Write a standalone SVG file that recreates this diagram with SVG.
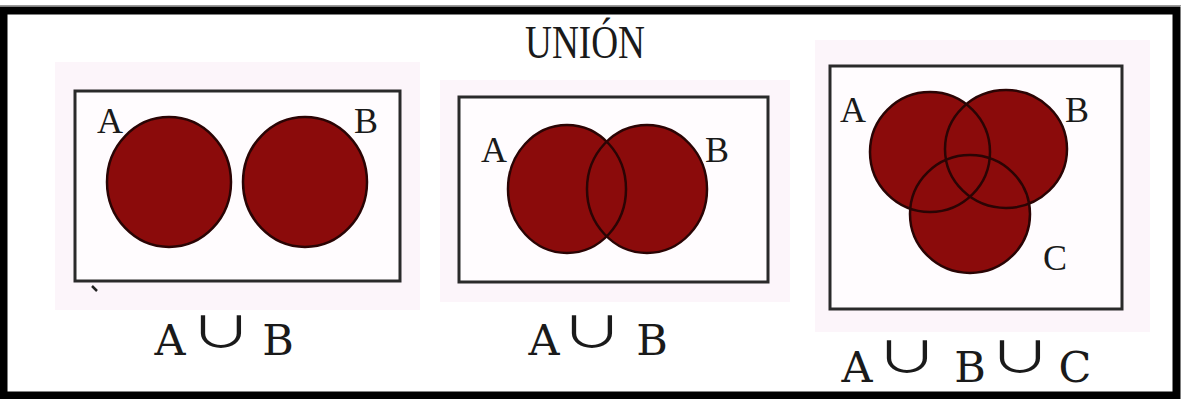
<svg xmlns="http://www.w3.org/2000/svg" width="1181" height="399" viewBox="0 0 1181 399">
  <style>
    .bg { fill: #fcf5fa; }
    .frame { fill: #fffcfe; stroke: #2a2a2a; stroke-width: 3; }
    .fill { fill: #8b0b0b; }
    .edge { fill: none; stroke: #2a0404; stroke-width: 2.5; }
    .lbl { font-family: "Liberation Serif", serif; font-size: 36px; fill: #1a1a1a; text-anchor: middle; }
    .expr { font-family: "DejaVu Serif", serif; font-size: 43px; fill: #1a1a1a; text-anchor: middle; }
    .cup { font-family: "Noto Sans CJK JP", "DejaVu Sans", sans-serif; font-size: 52px; fill: #1a1a1a; text-anchor: middle; }
    .title { font-family: "Liberation Serif", serif; font-size: 47px; fill: #1a1a1a; }
  </style>
  <rect x="0" y="0" width="1181" height="399" fill="#ffffff"/>
  <!-- outer frame -->
  <rect x="3.5" y="10.5" width="1173" height="385" fill="none" stroke="#000" stroke-width="8"/>
  <line x1="0" y1="5.5" x2="1181" y2="5.5" stroke="#9a9a9a" stroke-width="1"/>

  <text class="title" x="525" y="58" textLength="120" lengthAdjust="spacingAndGlyphs">UNIÓN</text>

  <!-- panel 1 -->
  <g id="panel1">
    <rect class="bg" x="55" y="62" width="365" height="248"/>
    <rect class="frame" x="75" y="91" width="325" height="190"/>
    <ellipse class="fill" cx="169" cy="182" rx="62" ry="65"/>
    <ellipse class="fill" cx="305" cy="182" rx="62" ry="65"/>
    <ellipse class="edge" cx="169" cy="182" rx="62" ry="65"/>
    <ellipse class="edge" cx="305" cy="182" rx="62" ry="65"/>
    <text class="lbl" x="110" y="133">A</text>
    <text class="lbl" x="366" y="133">B</text>
    <line x1="92" y1="286" x2="97" y2="291" stroke="#222" stroke-width="2.5"/>
  </g>
  <g id="expr1">
    <text class="expr" x="170" y="355">A</text>
    <text class="cup" transform="translate(221,348) scale(1.2,0.82)">∪</text>
    <text class="expr" x="278" y="355">B</text>
  </g>

  <!-- panel 2 -->
  <g id="panel2">
    <rect class="bg" x="440" y="80" width="350" height="222"/>
    <rect class="frame" x="459" y="97" width="309" height="185"/>
    <ellipse class="fill" cx="567" cy="189" rx="59" ry="64"/>
    <ellipse class="fill" cx="647" cy="189" rx="60" ry="64"/>
    <ellipse class="edge" cx="567" cy="189" rx="59" ry="64"/>
    <ellipse class="edge" cx="647" cy="189" rx="60" ry="64"/>
    <text class="lbl" x="494" y="162">A</text>
    <text class="lbl" x="717" y="162">B</text>
  </g>
  <g id="expr2">
    <text class="expr" x="544" y="355">A</text>
    <text class="cup" transform="translate(592,348) scale(1.2,0.82)">∪</text>
    <text class="expr" x="652" y="355">B</text>
  </g>

  <!-- panel 3 -->
  <g id="panel3">
    <rect class="bg" x="815" y="40" width="335" height="292"/>
    <rect class="frame" x="830" y="66" width="292" height="243"/>
    <ellipse class="fill" cx="930" cy="152" rx="60" ry="60"/>
    <ellipse class="fill" cx="1006" cy="149" rx="61" ry="59"/>
    <ellipse class="fill" cx="970" cy="214" rx="60" ry="59"/>
    <ellipse class="edge" cx="930" cy="152" rx="60" ry="60"/>
    <ellipse class="edge" cx="1006" cy="149" rx="61" ry="59"/>
    <ellipse class="edge" cx="970" cy="214" rx="60" ry="59"/>
    <text class="lbl" x="853" y="122">A</text>
    <text class="lbl" x="1077" y="122">B</text>
    <text class="lbl" x="1055" y="270">C</text>
  </g>
  <g id="expr3">
    <text class="expr" x="857" y="382">A</text>
    <text class="cup" transform="translate(907,373) scale(1.2,0.82)">∪</text>
    <text class="expr" x="970" y="382">B</text>
    <text class="cup" transform="translate(1020,373) scale(1.2,0.82)">∪</text>
    <text class="expr" x="1075" y="382">C</text>
  </g>
  <g id="connectors"></g>
</svg>
